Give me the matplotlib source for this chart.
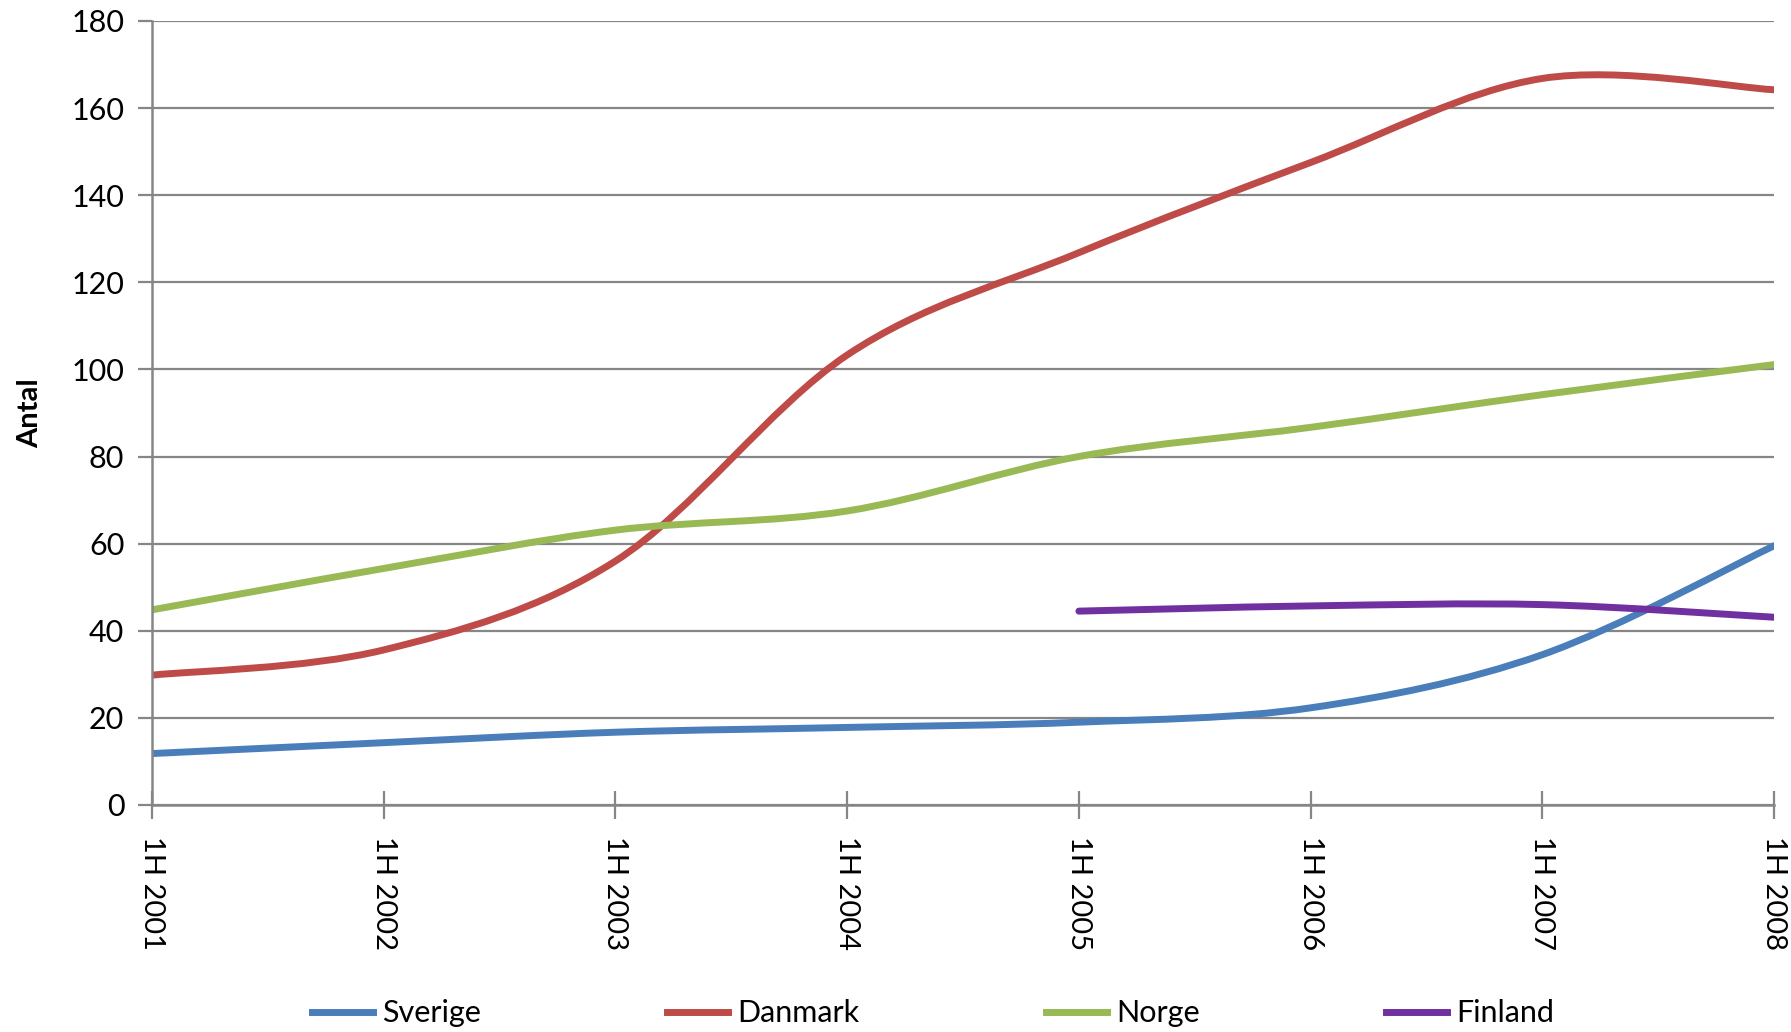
"""Antal per halvår: Sverige, Danmark, Norge, Finland (smoothed lines, Excel style)."""

import matplotlib
matplotlib.use("Agg")
import matplotlib.pyplot as plt
import numpy as np
from matplotlib.lines import Line2D
from matplotlib.patches import PathPatch
from matplotlib.path import Path

plt.rcParams["font.family"] = ["Lato", "DejaVu Sans"]

# Data
periods  = ["1H 2001", "1H 2002", "1H 2003", "1H 2004",
            "1H 2005", "1H 2006", "1H 2007", "1H 2008"]
sverige  = [11.8, 14.3, 16.7, 17.8, 19.0, 22.3, 34.5, 59.5]
danmark  = [29.8, 35.6, 56.0, 103.3, 126.8, 147.5, 166.8, 164.2]
norge    = [44.8, 54.3, 63.1, 67.5, 80.0, 86.7, 94.2, 101.1]
finland  = [None, None, None, None, 44.5, 45.7, 46.0, 43.1]

series_names  = ["Sverige", "Danmark", "Norge", "Finland"]
series_values = [sverige, danmark, norge, finland]
COLORS = ["#4A7EBB", "#BE4B48", "#98B954", "#7030A0"]
GRID_C = "#868686"
LW = 5.0


def _smooth_path(xs, ys):
    """Catmull-Rom style Bezier through the points (like Excel's smoothed line)."""
    pts = np.column_stack([xs, ys]).astype(float)
    n = len(pts)
    verts = [pts[0]]
    codes = [Path.MOVETO]
    for i in range(n - 1):
        p0 = pts[i - 1] if i > 0 else pts[i]
        p1, p2 = pts[i], pts[i + 1]
        p3 = pts[i + 2] if i + 2 < n else pts[i + 1]
        c1 = p1 + (p2 - p0) / 6.0
        c2 = p2 - (p3 - p1) / 6.0
        verts += [c1, c2, p2]
        codes += [Path.CURVE4] * 3
    return Path(verts, codes)


fig = plt.figure(figsize=(17.91, 10.32), dpi=100)
ax = fig.add_axes([0.0849, 0.22, 0.9056, 0.7597])

x = np.arange(len(periods))
for name, vals, col in zip(series_names, series_values, COLORS):
    pairs = [(xi, v) for xi, v in zip(x, vals) if v is not None]
    xs, ys = zip(*pairs)
    ax.add_patch(PathPatch(_smooth_path(xs, ys), fill=False, edgecolor=col,
                           lw=LW, capstyle="round", joinstyle="round", zorder=3))

ax.set_xlim(0, len(periods) - 1)
ax.set_ylim(0, 180)
ax.set_yticks(np.arange(0, 181, 20))
ax.set_xticks(x)
ax.set_xticklabels(periods, rotation=270, fontsize=21)
ax.tick_params(axis="y", labelsize=22, direction="out", length=10, width=1.6,
               color=GRID_C, pad=10)
ax.tick_params(axis="x", direction="inout", length=20, width=1.6,
               color=GRID_C, pad=12)
ax.grid(axis="y", color=GRID_C, lw=1.6)
ax.set_axisbelow(True)
for side in ("top", "right"):
    ax.spines[side].set_visible(False)
for side in ("left", "bottom"):
    ax.spines[side].set_color(GRID_C)
    ax.spines[side].set_linewidth(1.8)
    ax.spines[side].set_zorder(4)

ax.set_ylabel("Antal", fontsize=21, fontweight="bold")
ax.yaxis.set_label_coords(-0.067, 0.5)

handles = [Line2D([], [], color=c, lw=LW) for c in COLORS]
fig.legend(handles, series_names, loc="center", bbox_to_anchor=(0.521, 0.018),
           ncol=4, frameon=False, fontsize=22, handlelength=2.0,
           handletextpad=0.3, columnspacing=6.1)

fig.savefig("out.png", dpi=100)
